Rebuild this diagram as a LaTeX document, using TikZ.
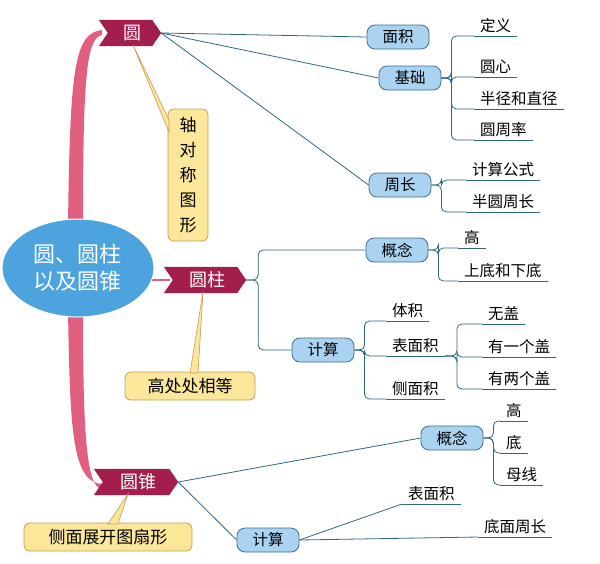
\documentclass[tikz,border=0pt]{standalone}
\usepackage{fontspec}
\setmainfont{Noto Sans CJK SC}
\usetikzlibrary{shapes.geometric}
\definecolor{rib}{HTML}{A31E4C}
\definecolor{pinkt}{HTML}{E2607F}
\definecolor{bfill}{HTML}{A9D3F0}
\definecolor{bdraw}{HTML}{3F6F8F}
\definecolor{yfill}{HTML}{FBE79A}
\definecolor{ydraw}{HTML}{C89A5A}
\definecolor{cen}{HTML}{4DA3DE}
\definecolor{ln}{HTML}{2F6680}
\tikzset{
  bnode/.style={draw=bdraw,fill=bfill,rounded corners=8pt,line width=0.8pt,minimum height=24pt,minimum width=62pt,inner xsep=9pt,inner ysep=1pt,font=\fontsize{15.5}{17}\selectfont},
  leaf/.style={inner xsep=6pt,inner ysep=3pt,font=\fontsize{15.5}{17}\selectfont,anchor=south west},
  cl/.style={draw=ln,line width=0.8pt,rounded corners=5pt},
  ynode/.style={draw=ydraw,fill=yfill,rounded corners=6pt,line width=0.8pt,font=\fontsize{17}{20}\selectfont},
  ribt/.style={text=white,font=\fontsize{18}{20}\selectfont,inner sep=0pt}
}
\newcommand{\ribbon}[6]{% name x y w h text
  \path (#2,#3) node[minimum width=#4pt,minimum height=#5pt,inner sep=0pt] (#1) {};
  \fill[rib] (#1.north west) -- ([xshift=-9pt]#1.north east) -- (#1.east) -- ([xshift=-9pt]#1.south east) -- (#1.south west) -- ([xshift=9pt]#1.west) -- cycle;
  \node[ribt] at ([xshift=2pt]#1.center) {#6};
}
\newcommand{\lf}[4]{%
  \node[leaf] (#1) at (#2,#3) {#4};
  \draw[ln,line width=0.8pt] (#1.south west) -- (#1.south east);
}
\begin{document}
\begin{tikzpicture}[x=1pt,y=-1pt]
\useasboundingbox (0,0) rectangle (600,563);
% trunks
\fill[pinkt] (68,226) .. controls (70,70) and (74,33) .. (102,30) -- (102,35) .. controls (86,38) and (83,80) .. (83,226) -- cycle;
\fill[pinkt] (68,310) .. controls (70,430) and (72,482) .. (102,484) -- (102,489) .. controls (86,488) and (83,430) .. (83,310) -- cycle;
\draw[pinkt,line width=1.5pt] (140,280) -- (170,280);
% central
\node[ellipse,fill=cen,draw=white,line width=1pt,minimum width=152pt,minimum height=98pt,text=white,align=center,font=\fontsize{22}{27}\selectfont] (c) at (78,268) {圆、圆柱\\以及圆锥};
% ribbons
\ribbon{r1}{130}{33}{62}{26}{圆}
\ribbon{r2}{205}{280}{82}{26}{圆柱}
\ribbon{r3}{136}{482}{84}{26}{圆锥}
% yellow callouts
\node[ynode,align=center,inner sep=3pt,minimum width=40pt,minimum height=132pt,font=\fontsize{17}{25}\selectfont] (y1) at (188,175) {轴\\对\\称\\图\\形};
\fill[yfill,draw=ydraw,line width=0.6pt] (133,45) -- (169,120) -- (169,132) -- cycle;
\node[ynode,minimum width=130pt,minimum height=28pt,inner sep=1pt] (y2) at (190,386) {高处处相等};
\fill[yfill,draw=ydraw,line width=0.6pt] (203,292) -- (190,373) -- (198,373) -- cycle;
\node[ynode,minimum width=168pt,minimum height=28pt,inner sep=1pt] (y3) at (108,537) {侧面展开图扇形};
\fill[yfill,draw=ydraw,line width=0.6pt] (128,494) -- (108,524) -- (118,524) -- cycle;
% blue nodes
\node[bnode] (mj) at (398,37) {面积};
\node[bnode] (jc) at (410,78) {基础};
\node[bnode] (zc) at (400,185) {周长};
\node[bnode] (gn1) at (397,250) {概念};
\node[bnode] (js1) at (323,350) {计算};
\node[bnode] (gn2) at (452,438) {概念};
\node[bnode] (js2) at (268,540) {计算};
% leaves
\lf{a1}{474}{36}{定义}
\lf{a2}{474}{77}{圆心}
\lf{a3}{474}{109}{半径和直径}
\lf{a4}{474}{140}{圆周率}
\lf{b1}{466}{180}{计算公式}
\lf{b2}{466}{212}{半圆周长}
\lf{c1}{458}{248}{高}
\lf{c2}{458}{281}{上底和下底}
\lf{d1}{386}{321}{体积}
\lf{d2}{386}{356}{表面积}
\lf{d3}{386}{399}{侧面积}
\lf{e1}{482}{324}{无盖}
\lf{e2}{482}{357}{有一个盖}
\lf{e3}{482}{389}{有两个盖}
\lf{f1}{500}{421}{高}
\lf{f2}{500}{453}{底}
\lf{f3}{500}{485}{母线}
\lf{g1}{402}{504}{表面积}
\lf{g2}{478}{537}{底面周长}
% connectors
\draw[ln,line width=0.8pt] (r1.east) -- (mj.west);
\draw[ln,line width=0.8pt] (r1.east) -- (jc.west);
\draw[ln,line width=0.8pt] (r1.east) -- (zc.west);
\foreach \t in {a1,a2,a3,a4} \draw[cl] (jc.east) -- ++(10,0) |- (\t.south west);
\foreach \t in {b1,b2} \draw[cl] (zc.east) -- ++(10,0) |- (\t.south west);
\foreach \t in {gn1,js1} \draw[cl] (r2.east) -- ++(12,0) |- (\t.west);
\foreach \t in {c1,c2} \draw[cl] (gn1.east) -- ++(10,0) |- (\t.south west);
\foreach \t in {d1,d2,d3} \draw[cl] (js1.east) -- ++(10,0) |- (\t.south west);
\foreach \t in {e1,e2,e3} \draw[cl] (d2.south east) -- ++(12,0) |- (\t.south west);
\foreach \t in {f1,f2,f3} \draw[cl] (gn2.east) -- ++(10,0) |- (\t.south west);
\draw[ln,line width=0.8pt] (r3.east) -- (gn2.west);
\draw[ln,line width=0.8pt] (r3.east) -- (js2.west);
\draw[ln,line width=0.8pt] (js2.east) -- (g1.south west);
\draw[ln,line width=0.8pt] (js2.east) -- (g2.south west);
\end{tikzpicture}
\end{document}
